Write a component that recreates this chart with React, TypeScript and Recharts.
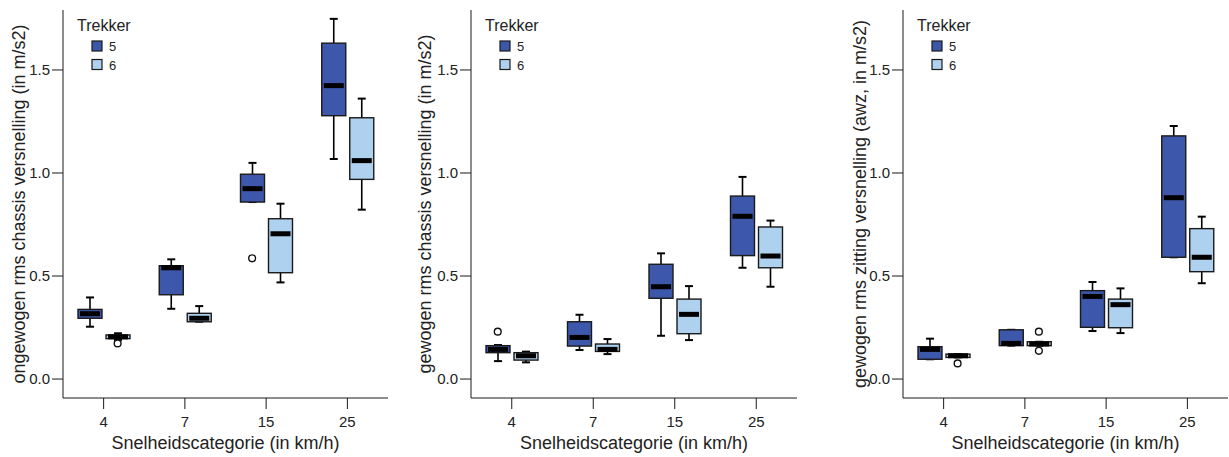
import React from "react";
import { ComposedChart, Bar, Scatter, XAxis, YAxis, ReferenceArea, Legend } from "recharts";

const categories = ["4", "7", "15", "25"];
const yTicks = [0, 0.5, 1.0, 1.5];

// per categorie: [min, q1, mediaan, q3, max]
const ongewogen5 = [
  [0.254, 0.295, 0.317, 0.338, 0.396],
  [0.341, 0.409, 0.54, 0.55, 0.581],
  [0.859, 0.859, 0.924, 0.994, 1.049],
  [1.068, 1.278, 1.424, 1.63, 1.748],
];
const ongewogen6 = [
  [0.19, 0.196, 0.205, 0.214, 0.222],
  [0.278, 0.278, 0.295, 0.319, 0.354],
  [0.469, 0.516, 0.705, 0.778, 0.851],
  [0.822, 0.969, 1.06, 1.268, 1.361],
];
const ongewogenUit5 = [{ cat: "15", v: 0.586 }];
const ongewogenUit6 = [{ cat: "4", v: 0.173 }];

const chassis5 = [
  [0.087, 0.128, 0.144, 0.162, 0.165],
  [0.141, 0.16, 0.202, 0.278, 0.312],
  [0.21, 0.392, 0.448, 0.557, 0.61],
  [0.54, 0.599, 0.79, 0.888, 0.981],
];
const chassis6 = [
  [0.081, 0.092, 0.113, 0.128, 0.133],
  [0.121, 0.134, 0.144, 0.17, 0.194],
  [0.189, 0.22, 0.314, 0.388, 0.451],
  [0.448, 0.54, 0.597, 0.738, 0.769],
];
const chassisUit5 = [{ cat: "4", v: 0.23 }];
const chassisUit6: { cat: string; v: number }[] = [];

const zitting5 = [
  [0.096, 0.096, 0.144, 0.157, 0.196],
  [0.162, 0.162, 0.173, 0.239, 0.239],
  [0.233, 0.251, 0.401, 0.429, 0.471],
  [0.591, 0.591, 0.88, 1.18, 1.228],
];
const zitting6 = [
  [0.105, 0.105, 0.113, 0.121, 0.121],
  [0.162, 0.162, 0.17, 0.181, 0.181],
  [0.223, 0.249, 0.361, 0.388, 0.44],
  [0.465, 0.521, 0.591, 0.73, 0.788],
];
const zittingUit5: { cat: string; v: number }[] = [];
const zittingUit6 = [
  { cat: "4", v: 0.076 },
  { cat: "7", v: 0.23 },
  { cat: "7", v: 0.137 },
];

const DARK = "#3d58ab";
const LIGHT = "#aed1ef";
const INK = "#1a1a1a";
const BAR_W = 24;
const GAP = 4;
const SHIFT = (BAR_W + GAP) / 2;

function BoxShape(props: any) {
  const { x, y, width, height, stats, fill } = props;
  if (!stats || !isFinite(y) || !isFinite(height)) return null;
  const [lo, q1, med, q3, hi] = stats;
  const py = (v: number) => (hi === lo ? y : y + (height * (hi - v)) / (hi - lo));
  const cx = x + width / 2;
  const capW = 8;
  return (
    <g>
      <line x1={cx} x2={cx} y1={py(hi)} y2={py(q3)} stroke="#000" strokeWidth={1.6} />
      <line x1={cx} x2={cx} y1={py(q1)} y2={py(lo)} stroke="#000" strokeWidth={1.6} />
      <line x1={cx - capW / 2} x2={cx + capW / 2} y1={py(hi)} y2={py(hi)} stroke="#000" strokeWidth={2} />
      <line x1={cx - capW / 2} x2={cx + capW / 2} y1={py(lo)} y2={py(lo)} stroke="#000" strokeWidth={2} />
      <rect
        x={x}
        y={py(q3)}
        width={width}
        height={Math.max(py(q1) - py(q3), 1)}
        fill={fill}
        stroke={INK}
        strokeWidth={1.4}
      />
      <rect x={x + 2} y={py(med) - 2.5} width={width - 4} height={5} fill="#000" />
    </g>
  );
}

const Outlier = (offset: number) => (p: any) =>
  p && isFinite(p.cx) && isFinite(p.cy) ? (
    <circle cx={p.cx + offset} cy={p.cy} r={3.4} fill="#fff" stroke="#111" strokeWidth={1.4} />
  ) : (
    <g />
  );

function LegendBox() {
  return (
    <svg width={72} height={62} style={{ display: "block" }}>
      <text x={2} y={18} fontSize={16} fill="#222">Trekker</text>
      <rect x={17} y={28} width={10} height={10} fill={DARK} stroke={INK} strokeWidth={1.2} />
      <text x={34} y={37.5} fontSize={13} fill="#222">5</text>
      <rect x={17} y={46.5} width={10} height={10} fill={LIGHT} stroke={INK} strokeWidth={1.2} />
      <text x={34} y={56.5} fontSize={13} fill="#222">6</text>
    </svg>
  );
}

const range5 = (r: any) => (r && r.s5 ? [r.s5[0], r.s5[4]] : null);
const range6 = (r: any) => (r && r.s6 ? [r.s6[0], r.s6[4]] : null);

function Panel(props: {
  left: number;
  width: number;
  axisW: number;
  right: number;
  title: string;
  titleDx: number;
  s5: number[][];
  s6: number[][];
  out5: { cat: string; v: number }[];
  out6: { cat: string; v: number }[];
}) {
  const rows = categories.map((cat, i) => ({ cat, s5: props.s5[i], s6: props.s6[i] }));
  return (
    <div style={{ position: "absolute", left: props.left, top: 0 }}>
      <ComposedChart
        width={props.width}
        height={457}
        data={rows}
        margin={{ top: 10, right: props.right, bottom: 0, left: 0 }}
        barSize={BAR_W}
        barGap={GAP}
      >
        <XAxis
          dataKey="cat"
          type="category"
          allowDuplicatedCategory={false}
          height={59}
          tickSize={11}
          tickMargin={7}
          stroke={INK}
          tick={{ fill: "#222", fontSize: 15 }}
          label={{ value: "Snelheidscategorie (in km/h)", position: "insideBottom", offset: 8, fontSize: 18, fill: "#222" }}
        />
        <YAxis
          width={props.axisW}
          domain={[-0.092, 1.791]}
          allowDataOverflow
          ticks={yTicks}
          tickFormatter={(v: number) => v.toFixed(1)}
          tickSize={11}
          tickMargin={2}
          stroke={INK}
          tick={{ fill: "#222", fontSize: 15 }}
          label={{ value: props.title, angle: -90, position: "center", dx: props.titleDx, fontSize: 18, fill: "#222" }}
        />
        <ReferenceArea fill="none" stroke={INK} strokeWidth={1.4} />
        <Legend
          layout="vertical"
          align="center"
          verticalAlign="middle"
          content={() => <LegendBox />}
          wrapperStyle={{ left: props.axisW + 12, top: 13, width: 72, height: 62 }}
        />
        <Bar
          dataKey={range5}
          name="5"
          fill={DARK}
          isAnimationActive={false}
          shape={(p: any) => <BoxShape {...p} stats={p.payload && p.payload.s5} fill={DARK} />}
        />
        <Bar
          dataKey={range6}
          name="6"
          fill={LIGHT}
          isAnimationActive={false}
          shape={(p: any) => <BoxShape {...p} stats={p.payload && p.payload.s6} fill={LIGHT} />}
        />
        <Scatter data={props.out5} dataKey="v" isAnimationActive={false} shape={Outlier(-SHIFT)} />
        <Scatter data={props.out6} dataKey="v" isAnimationActive={false} shape={Outlier(SHIFT)} />
      </ComposedChart>
    </div>
  );
}

export default function App() {
  return (
    <div
      style={{
        position: "absolute",
        left: 0,
        top: 0,
        width: 1229,
        height: 457,
        background: "#fff",
        fontFamily: "'Liberation Sans', Arial, sans-serif",
      }}
    >
      <Panel
        left={0}
        width={400}
        axisW={63}
        right={12}
        title="ongewogen rms chassis versnelling (in m/s2)"
        titleDx={-13}
        s5={ongewogen5}
        s6={ongewogen6}
        out5={ongewogenUit5}
        out6={ongewogenUit6}
      />
      <Panel
        left={410}
        width={400}
        axisW={61}
        right={13}
        title="gewogen rms chassis versnelling (in m/s2)"
        titleDx={-15.5}
        s5={chassis5}
        s6={chassis6}
        out5={chassisUit5}
        out6={chassisUit6}
      />
      <Panel
        left={820}
        width={409}
        axisW={83}
        right={1}
        title="gewogen rms zitting versnelling (awz, in m/s2)"
        titleDx={-2}
        s5={zitting5}
        s6={zitting6}
        out5={zittingUit5}
        out6={zittingUit6}
      />
    </div>
  );
}
